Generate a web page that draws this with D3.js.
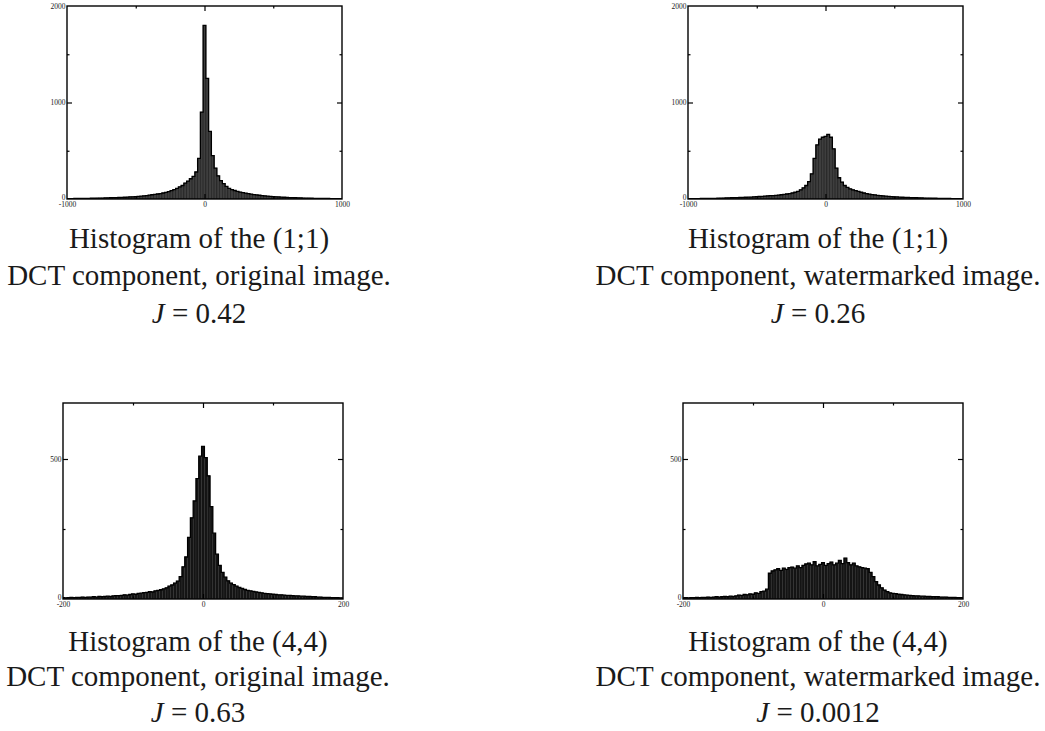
<!DOCTYPE html>
<html>
<head>
<meta charset="utf-8">
<script src="https://cdn.jsdelivr.net/npm/d3@7"></script>
<style>
body { margin: 0; background: #fff; }
svg { display: block; }
.axis text { font-family: "Liberation Serif", "Times New Roman", serif; font-size: 7.5px; fill: #222; }
.caption { font-family: "Liberation Serif", "Times New Roman", serif; font-size: 29px; fill: #1a1a1a; }
</style>
</head>
<body>
<svg id="fig" width="1045" height="731"></svg>
<script>
// (1;1) DCT component: bins of 20, centres -1000 .. 1000
var dc11Centers = d3.range(-1000, 1001, 20);
var dc11Original = [
    3, 4, 4, 5, 5, 6, 6, 7, 7, 8,
    8, 9, 10, 10, 11, 12, 13, 14, 15, 16,
    17, 18, 20, 22, 23, 25, 27, 29, 32, 35,
    40, 44, 48, 52, 56, 62, 68, 76, 86, 98,
    110, 125, 140, 165, 185, 210, 235, 280, 420, 900,
    1800,
    1250, 700, 450, 320, 240, 190, 160, 130, 110, 98,
    88, 80, 72, 66, 60, 55, 50, 46, 42, 39,
    35, 32, 29, 27, 25, 23, 21, 19, 18, 16,
    15, 14, 13, 12, 11, 10, 9, 9, 8, 7,
    7, 6, 6, 5, 5, 4, 4, 4, 3, 3
];
var dc11Marked = [
    2, 3, 3, 4, 4, 5, 5, 6, 6, 7,
    7, 8, 9, 10, 11, 12, 13, 14, 15, 16,
    17, 18, 19, 20, 22, 24, 26, 28, 30, 32,
    34, 36, 38, 41, 44, 48, 52, 56, 62, 70,
    80, 95, 115, 140, 180, 260, 420, 560, 620, 640,
    650,
    670, 640, 520, 320, 220, 175, 140, 120, 105, 95,
    86, 78, 70, 62, 56, 50, 46, 42, 38, 35,
    32, 29, 27, 25, 23, 21, 19, 18, 17, 16,
    15, 14, 13, 12, 11, 10, 9, 9, 8, 8,
    7, 6, 6, 5, 5, 4, 4, 3, 3, 2
];

// (4,4) DCT component: bins of 4, centres -200 .. 200
var ac44Centers = d3.range(-200, 201, 4);
var ac44Original = [
    5, 4, 5, 6, 5, 6, 6, 7, 6, 7,
    7, 8, 7, 9, 8, 9, 10, 9, 11, 12,
    12, 13, 15, 14, 16, 18, 17, 20, 21, 23,
    24, 26, 25, 29, 31, 33, 36, 40, 46, 50,
    57, 64, 80, 115, 150, 220, 290, 350, 430, 510,
    545,
    505, 440, 330, 235, 160, 120, 95, 78, 65, 57,
    51, 46, 41, 38, 34, 31, 29, 27, 25, 24,
    22, 20, 19, 18, 17, 16, 15, 15, 14, 13,
    13, 12, 11, 11, 10, 10, 9, 9, 8, 8,
    7, 7, 6, 6, 6, 5, 5, 5, 4, 4
];
var ac44Marked = [
    4, 5, 4, 5, 5, 6, 5, 6, 6, 7,
    6, 7, 8, 7, 8, 9, 8, 10, 9, 11,
    14, 13, 16, 15, 18, 17, 22, 20, 26, 28,
    35, 92, 100, 104, 108, 102, 110, 106, 112, 114,
    110, 118, 112, 120, 125, 128, 122, 133, 118, 124,
    130,
    120, 126, 132, 122, 128, 138, 126, 146, 130, 122,
    128, 118, 115, 112, 110, 108, 95, 80, 62, 50,
    40, 32, 26, 22, 20, 19, 17, 16, 15, 14,
    13, 12, 11, 11, 10, 10, 9, 9, 8, 8,
    8, 7, 7, 7, 6, 6, 6, 5, 5, 5
];

// caption texts
var captionHeads = ["Histogram of the (1;1)", "Histogram of the (1;1)", "Histogram of the (4,4)", "Histogram of the (4,4)"];
var captionKinds = ["DCT component, original image.", "DCT component, watermarked image.",
                    "DCT component, original image.", "DCT component, watermarked image."];
var jValues = ["0.42", "0.26", "0.63", "0.0012"];

var svg = d3.select("#fig");

var panels = [
    { centers: dc11Centers, counts: dc11Original, step: 20, xDomain: [-1000, 1000], yDomain: [0, 2000],
      left: 67, right: 342, top: 6, bottom: 199, fill: "#3e3e3e", edge: "#111",
      xLabels: [-1000, 0, 1000], xMajor: [0], xMinor: [-500, 500],
      yLabels: [0, 1000, 2000], yMajor: [1000], yMinor: [500, 1500], cx: 199, capY: [248, 285, 323] },
    { centers: dc11Centers, counts: dc11Marked, step: 20, xDomain: [-1000, 1000], yDomain: [0, 2000],
      left: 688, right: 963, top: 6, bottom: 199, fill: "#3e3e3e", edge: "#111",
      xLabels: [-1000, 0, 1000], xMajor: [0], xMinor: [-500, 500],
      yLabels: [0, 1000, 2000], yMajor: [1000], yMinor: [500, 1500], cx: 818, capY: [248, 285, 323] },
    { centers: ac44Centers, counts: ac44Original, step: 4, xDomain: [-200, 200], yDomain: [0, 700],
      left: 63, right: 343, top: 403, bottom: 599, fill: "#141414", edge: "#333",
      xLabels: [-200, 0, 200], xMajor: [0], xMinor: [-100, 100],
      yLabels: [0, 500], yMajor: [500], yMinor: [250], cx: 198, capY: [651, 686, 722] },
    { centers: ac44Centers, counts: ac44Marked, step: 4, xDomain: [-200, 200], yDomain: [0, 700],
      left: 683, right: 963, top: 403, bottom: 599, fill: "#141414", edge: "#333",
      xLabels: [-200, 0, 200], xMajor: [0], xMinor: [-100, 100],
      yLabels: [0, 500], yMajor: [500], yMinor: [250], cx: 818, capY: [651, 686, 722] }
];

// inward ticks on all four sides, no labels
function innerTicks(g, p, x, y, values, size, horizontal) {
    if (horizontal) {
        g.append("g").attr("class", "axis").attr("transform", "translate(0," + p.bottom + ")")
            .call(d3.axisBottom(x).tickValues(values).tickSize(-size).tickFormat(""));
        g.append("g").attr("class", "axis").attr("transform", "translate(0," + p.top + ")")
            .call(d3.axisTop(x).tickValues(values).tickSize(-size).tickFormat(""));
    } else {
        g.append("g").attr("class", "axis").attr("transform", "translate(" + p.left + ",0)")
            .call(d3.axisLeft(y).tickValues(values).tickSize(-size).tickFormat(""));
        g.append("g").attr("class", "axis").attr("transform", "translate(" + p.right + ",0)")
            .call(d3.axisRight(y).tickValues(values).tickSize(-size).tickFormat(""));
    }
}

panels.forEach(function(p, i) {
    var x = d3.scaleLinear().domain(p.xDomain).range([p.left, p.right]);
    var y = d3.scaleLinear().domain(p.yDomain).range([p.bottom, p.top]);
    var bw = x(p.step) - x(0);
    var g = svg.append("g");

    g.append("clipPath").attr("id", "clip" + i)
        .append("rect").attr("x", p.left).attr("y", p.top)
        .attr("width", p.right - p.left).attr("height", p.bottom - p.top);

    var plot = g.append("g").attr("clip-path", "url(#clip" + i + ")");

    plot.selectAll("rect.bar")
        .data(p.counts)
        .enter().append("rect")
        .attr("class", "bar")
        .attr("x", function(d, j) { return x(p.centers[j]) - bw / 2; })
        .attr("width", bw)
        .attr("y", function(d) { return y(d); })
        .attr("height", function(d) { return y(0) - y(d); })
        .attr("fill", p.fill)
        .attr("stroke", p.edge)
        .attr("stroke-width", 0.5);

    // stepped outline of the histogram
    var pts = [];
    p.counts.forEach(function(d, j) {
        pts.push([p.centers[j] - p.step / 2, d]);
        pts.push([p.centers[j] + p.step / 2, d]);
    });
    plot.append("path")
        .datum(pts)
        .attr("fill", "none")
        .attr("stroke", "#000")
        .attr("stroke-width", 1.3)
        .attr("d", d3.line().x(function(d) { return x(d[0]); }).y(function(d) { return y(d[1]); }));

    // frame
    g.append("rect")
        .attr("x", p.left).attr("y", p.top)
        .attr("width", p.right - p.left).attr("height", p.bottom - p.top)
        .attr("fill", "none").attr("stroke", "#000").attr("stroke-width", 1.4);

    innerTicks(g, p, x, y, p.xMajor, 5, true);
    innerTicks(g, p, x, y, p.xMinor, 2.5, true);
    innerTicks(g, p, x, y, p.yMajor, 5, false);
    innerTicks(g, p, x, y, p.yMinor, 2.5, false);

    // tick labels
    g.append("g").attr("class", "axis labels-x").attr("transform", "translate(0," + p.bottom + ")")
        .call(d3.axisBottom(x).tickValues(p.xLabels).tickSize(0).tickPadding(3).tickFormat(String));
    g.append("g").attr("class", "axis labels-y").attr("transform", "translate(" + p.left + ",0)")
        .call(d3.axisLeft(y).tickValues(p.yLabels).tickSize(0).tickPadding(1.5).tickFormat(String));
    g.selectAll(".labels-y text").attr("dy", function(d) { return d === 0 ? "0.1em" : "0.32em"; });
    g.selectAll(".axis .domain").remove();
    g.selectAll(".axis text").attr("font-size", null).attr("font-family", null).attr("fill", "#222");
    g.selectAll(".axis line").attr("stroke", "#000").attr("stroke-width", 1.2);

    // caption
    var cap = g.append("text").attr("class", "caption").attr("text-anchor", "middle");
    cap.append("tspan").attr("x", p.cx).attr("y", p.capY[0]).text(captionHeads[i]);
    cap.append("tspan").attr("x", p.cx).attr("y", p.capY[1]).text(captionKinds[i]);
    var jt = g.append("text").attr("class", "caption").attr("text-anchor", "middle")
        .attr("x", p.cx).attr("y", p.capY[2]);
    jt.append("tspan").attr("font-style", "italic").text("J");
    jt.append("tspan").text(" = " + jValues[i]);
});
</script>
</body>
</html>
